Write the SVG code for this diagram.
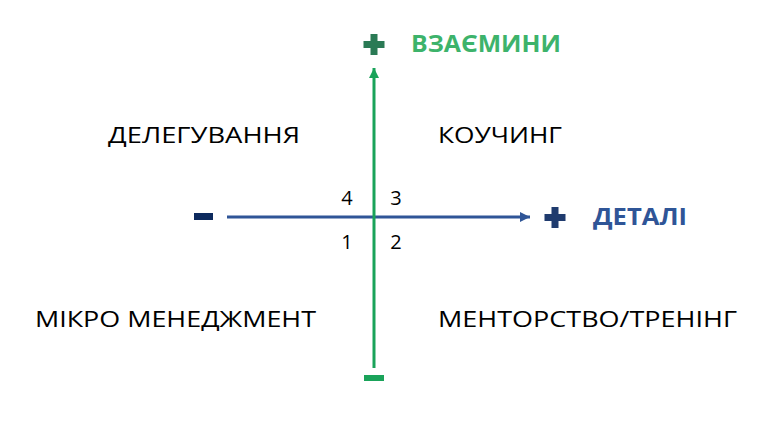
<svg xmlns="http://www.w3.org/2000/svg" width="779" height="434" viewBox="0 0 779 434">
<style>
.q{font-family:"Open Sans","DejaVu Sans",sans-serif;font-size:21px;fill:#000}
.n{font-family:"Open Sans","DejaVu Sans",sans-serif;font-size:20px;fill:#000;text-anchor:middle}
.lab{font-family:"Open Sans","DejaVu Sans",sans-serif;font-size:23px;font-weight:700}
</style>
<defs>
<marker id="ag" markerWidth="10" markerHeight="10" refX="10" refY="5" orient="auto" markerUnits="userSpaceOnUse" viewBox="0 0 10 10">
<path d="M0,0 L10,5 L0,10 Z" fill="#1aa35a"/>
</marker>
<marker id="ab" markerWidth="10" markerHeight="10" refX="10" refY="5" orient="auto" markerUnits="userSpaceOnUse" viewBox="0 0 10 10">
<path d="M0,0 L10,5 L0,10 Z" fill="#2f5597"/>
</marker>
</defs>
<rect width="779" height="434" fill="#fff"/>
<g id="connectors">
<line x1="227" y1="217" x2="530" y2="217" stroke="#2f5597" stroke-width="3" marker-end="url(#ab)"/>
<line x1="374" y1="368" x2="374" y2="68" stroke="#1aa35a" stroke-width="3" marker-end="url(#ag)"/>
</g>
<g id="axis-y">
<path d="M370.5,34 h7 v7 h7 v7 h-7 v7 h-7 v-7 h-7 v-7 h7 z" fill="#2a7a55"/>
<text class="lab" x="411" y="52" fill="#3db36b" textLength="150" lengthAdjust="spacingAndGlyphs">ВЗАЄМИНИ</text>
<rect x="364" y="375" width="20" height="6" fill="#1aa35a"/>
</g>
<g id="axis-x">
<path d="M551.5,207 h7 v7 h7 v7 h-7 v7 h-7 v-7 h-7 v-7 h7 z" fill="#1f3b6e"/>
<text class="lab" x="593" y="225" fill="#2f5597" textLength="94" lengthAdjust="spacingAndGlyphs">ДЕТАЛІ</text>
<rect x="194" y="213" width="19" height="7" fill="#0d2a5e"/>
</g>
<g id="q4"><text class="q" x="108" y="143" textLength="192" lengthAdjust="spacingAndGlyphs">ДЕЛЕГУВАННЯ</text></g>
<g id="q3"><text class="q" x="438" y="143" textLength="124" lengthAdjust="spacingAndGlyphs">КОУЧИНГ</text></g>
<g id="q1"><text class="q" x="35" y="327" textLength="281" lengthAdjust="spacingAndGlyphs">МІКРО МЕНЕДЖМЕНТ</text></g>
<g id="q2"><text class="q" x="438" y="327" textLength="299" lengthAdjust="spacingAndGlyphs">МЕНТОРСТВО/ТРЕНІНГ</text></g>
<g id="numbers">
<text class="n" x="347" y="205">4</text>
<text class="n" x="396" y="205">3</text>
<text class="n" x="347" y="249">1</text>
<text class="n" x="396" y="249">2</text>
</g>
</svg>
